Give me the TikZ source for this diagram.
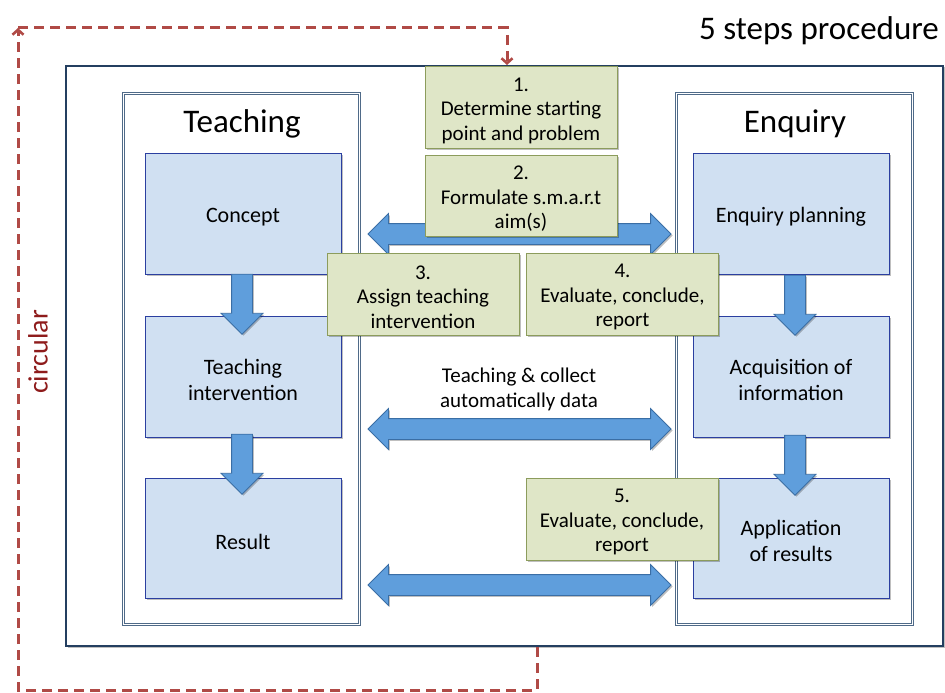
\documentclass[tikz,border=0pt]{standalone}
\usepackage{fontspec}
\setmainfont{Carlito}
\usetikzlibrary{shapes.arrows,arrows.meta,shadows}
\definecolor{navy}{HTML}{243F60}
\definecolor{panelline}{HTML}{4F6A88}
\definecolor{bluefill}{HTML}{D0E0F2}
\definecolor{blueline}{HTML}{2B3FA0}
\definecolor{arrowfill}{HTML}{5F9EDC}
\definecolor{arrowline}{HTML}{3A6EA5}
\definecolor{greenfill}{HTML}{DFE6C7}
\definecolor{greenline}{HTML}{8C9C5C}
\definecolor{loopred}{HTML}{B04A46}
\definecolor{circred}{HTML}{8E1B1B}
\tikzset{
  softshadow/.style={drop shadow={shadow xshift=1.5pt,shadow yshift=-1.5pt,opacity=0.25,fill=black}},
  outerbox/.style={draw=navy,line width=1.6pt,fill=white,minimum width=877pt,minimum height=580pt,inner sep=0pt,softshadow},
  panel/.style={draw=panelline,line width=0.7pt,double=white,double distance=1.6pt,fill=white,minimum width=236pt,minimum height=531pt,inner sep=0pt,softshadow},
  title/.style={font=\fontsize{33}{38}\selectfont,inner sep=0pt},
  bluetext/.style={font=\fontsize{22}{26}\selectfont,align=center,inner sep=0pt},
  greentext/.style={font=\fontsize{21}{24.5}\selectfont,align=center,inner sep=0pt},
  bluebox/.style={draw=blueline,line width=0.9pt,fill=bluefill,minimum width=196pt,inner sep=0pt,softshadow},
  greenbox/.style={draw=greenline,line width=1pt,fill=greenfill,minimum width=192pt,minimum height=81pt,inner sep=0pt,softshadow},
  downarrow/.style={single arrow,draw=arrowline,line width=0.8pt,fill=arrowfill,minimum height=60pt,minimum width=41pt,single arrow head extend=10.5pt,inner xsep=0pt,inner ysep=10pt,rotate=-90,softshadow},
  linkarrow/.style={double arrow,draw=arrowline,line width=0.8pt,fill=arrowfill,minimum height=303pt,minimum width=40pt,double arrow head extend=10pt,inner xsep=0pt,inner ysep=10pt,softshadow},
  loopline/.style={draw=loopred,line width=3pt,dash pattern=on 10pt off 6pt},
  looptip/.style={-{Straight Barb[length=5pt,width=11pt,line width=2.6pt]}},
  label/.style={font=\fontsize{21}{25}\selectfont,align=center,inner sep=0pt}
}
\begin{document}
\begin{tikzpicture}[x=1pt,y=-1pt]
\useasboundingbox (0,0) rectangle (945,693);

% outer frame
\node[outerbox] (outer) at (504.5,356) {};

% feedback loop
\coordinate (loopstart) at (537,647);
\coordinate (loopbl) at (18,690);
\coordinate (looptl) at (18,28);
\coordinate (looptr) at (507,28);
\coordinate (loopend) at (507,65);
\draw[loopline,looptip] (loopstart) -- (loopstart |- loopbl) -- (loopbl) -- (looptl);
\draw[loopline,looptip] (looptl) -- (looptr) -- (loopend);
\node[font=\fontsize{28}{32}\selectfont,text=circred,rotate=90,inner sep=0pt] (circular) at (38,352) {circular};

\node[font=\fontsize{33}{38}\selectfont,inner sep=0pt] (procedure) at (819,31) {5 steps procedure};

% panels
\node[panel] (teachpanel) at (241.5,359) {};
\node[panel] (enqpanel) at (794.5,359) {};
\node[title] (teachtitle) at (242,124) {Teaching};
\node[title] (enqtitle) at (795,124) {Enquiry};

% teaching column
\node[bluebox,minimum height=121pt] (concept) at (243,213.5) {};
\node[bluebox,minimum height=121pt] (interv) at (243,376.5) {};
\node[bluebox,minimum height=120pt] (result) at (243,538) {};
\node[bluetext] (concepttxt) at ([yshift=-4pt]concept.center) {Concept};
\node[bluetext] (intervtxt) at ([yshift=-3pt]interv.center) {Teaching\\intervention};
\node[bluetext] (resulttxt) at ([yshift=-3.5pt]result.center) {Result};

% enquiry column
\node[bluebox,minimum height=121pt] (planning) at (791,213.5) {};
\node[bluebox,minimum height=121pt] (acquis) at (791,376.5) {};
\node[bluebox,minimum height=120pt] (applic) at (791,538) {};
\node[bluetext] (planningtxt) at ([yshift=-3pt]planning.center) {Enquiry planning};
\node[bluetext] (acquistxt) at ([yshift=-3pt]acquis.center) {Acquisition of\\information};
\node[bluetext] (applictxt) at ([yshift=-3pt]applic.center) {Application\\of results};

% vertical arrows
\node[downarrow] (ta1) at (242,299) {};
\node[downarrow] (ta2) at (242,459) {};
\node[downarrow] (ea1) at (795,300) {};
\node[downarrow] (ea2) at (795,460) {};

% horizontal link arrows
\node[linkarrow] (link1) at (519.5,234) {};
\node[linkarrow] (link2) at (519.5,429) {};
\node[linkarrow] (link3) at (519.5,585) {};
\node[label] (linklabel) at (519,389) {Teaching \& collect\\automatically data};

% steps
\node[greenbox] (s1) at (521,107.5) {};
\node[greentext] (s1txt) at ([yshift=-3pt]s1.center) {1.\\Determine starting\\point and problem};
\node[greenbox] (s2) at (521,196) {};
\node[greentext] (s2txt) at ([yshift=-3pt]s2.center) {2.\\Formulate s.m.a.r.t\\aim(s)};
\node[greenbox,minimum height=82pt] (s3) at (423,294) {};
\node[greentext] (s3txt) at ([yshift=-3pt]s3.center) {3.\\Assign teaching\\intervention};
\node[greenbox,minimum height=82pt] (s4) at (622.5,294) {};
\node[greentext] (s4txt) at ([yshift=-3pt]s4.center) {4.\\Evaluate, conclude,\\report};
\node[greenbox,minimum height=82pt] (s5) at (622,519) {};
\node[greentext] (s5txt) at ([yshift=-3pt]s5.center) {5.\\Evaluate, conclude,\\report};
\end{tikzpicture}
\end{document}
